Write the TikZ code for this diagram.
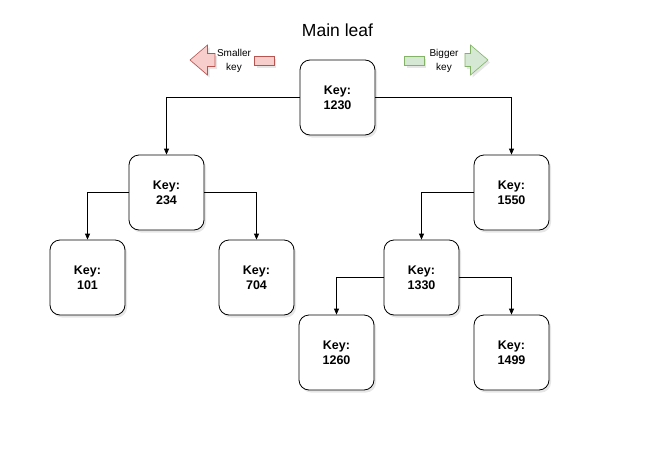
\documentclass[tikz,border=0pt]{standalone}
\usepackage{fontspec}
\setmainfont{Liberation Sans}
\usetikzlibrary{arrows.meta,shadows}
\definecolor{redfill}{HTML}{F8CECC}
\definecolor{redline}{HTML}{B85450}
\definecolor{greenfill}{HTML}{D5E8D4}
\definecolor{greenline}{HTML}{82B366}
\begin{document}
\begin{tikzpicture}[x=1pt, y=-1pt,
  soft/.style = {drop shadow={shadow xshift=2pt, shadow yshift=-2.5pt, opacity=0.2}},
  key/.style = {draw, soft, fill=white, rounded corners=10pt, line width=0.8pt,
    minimum width=75pt, minimum height=75pt, align=center,
    font=\fontsize{12.5}{15}\selectfont\bfseries},
  link/.style = {-{Triangle[length=6pt,width=5pt]}, line width=0.8pt, rounded corners=0pt},
  note/.style = {align=center, font=\fontsize{10}{14}\selectfont}]
\useasboundingbox (0,0) rectangle (661,458);
% title and legend
\node (title) at (337.5,30) {\fontsize{17.5}{20}\selectfont Main leaf};
\filldraw[soft, fill=redfill, draw=redline, line width=0.6pt]
  (190,60) -- (207.5,45) -- (207.5,53.5) -- (215,53.5) -- (215,66.5) -- (207.5,66.5) -- (207.5,75) -- cycle;
\node[note] (smaller) at (234,61) {Smaller\\key};
\filldraw[soft, fill=redfill, draw=redline, line width=0.6pt] (254.5,56) rectangle (274,65);
\filldraw[soft, fill=greenfill, draw=greenline, line width=0.6pt] (404.5,56) rectangle (424,65);
\node[note] (bigger) at (444,61) {Bigger\\key};
\filldraw[soft, fill=greenfill, draw=greenline, line width=0.6pt]
  (488,60) -- (470.5,45) -- (470.5,53.5) -- (465,53.5) -- (465,66.5) -- (470.5,66.5) -- (470.5,75) -- cycle;
% keys
\node[key] (k1230) at (337.5,97.5) {Key:\\1230};
\node[key] (k234) at (166.5,192.5) {Key:\\234};
\node[key] (k1550) at (511.5,192.5) {Key:\\1550};
\node[key] (k101) at (87.5,277.5) {Key:\\101};
\node[key] (k704) at (256.5,277.5) {Key:\\704};
\node[key] (k1330) at (421.5,277.5) {Key:\\1330};
\node[key] (k1260) at (336.5,352.5) {Key:\\1260};
\node[key] (k1499) at (511.5,352.5) {Key:\\1499};
% links
\draw[link] (k1230.west) -| (k234.north);
\draw[link] (k1230.east) -| (k1550.north);
\draw[link] (k234.west) -| (k101.north);
\draw[link] (k234.east) -| (k704.north);
\draw[link] (k1550.west) -| (k1330.north);
\draw[link] (k1330.west) -| (k1260.north);
\draw[link] (k1330.east) -| (k1499.north);
\end{tikzpicture}
\end{document}
